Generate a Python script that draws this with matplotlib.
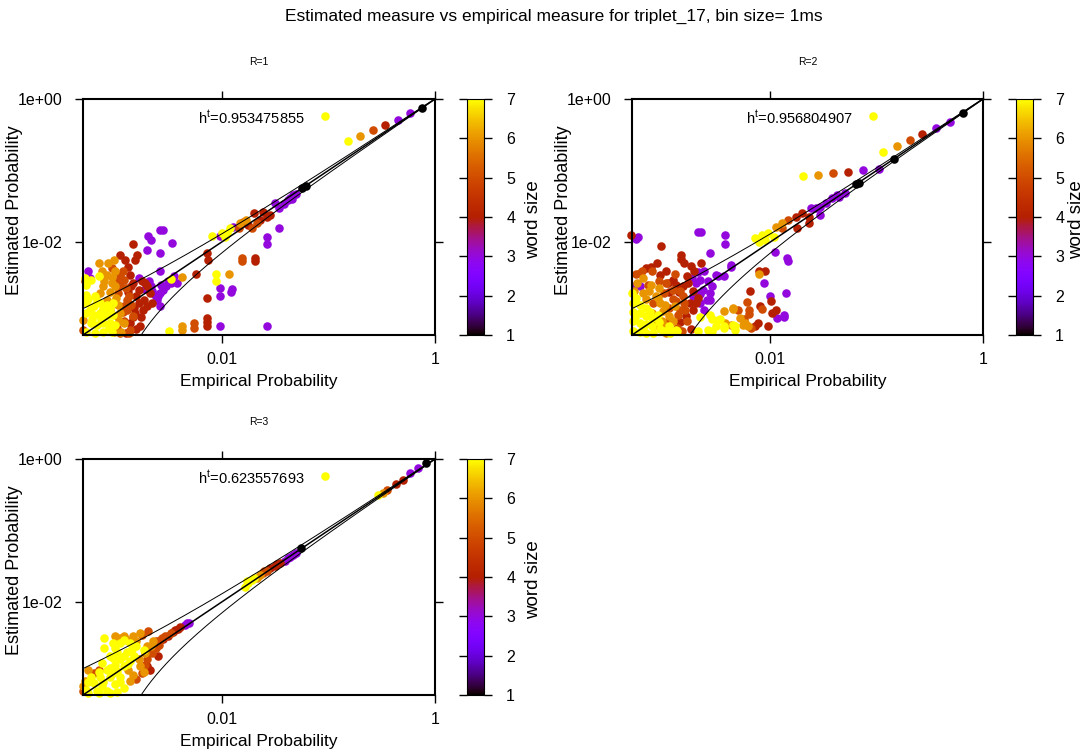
import numpy as np
import matplotlib
matplotlib.use("Agg")
import matplotlib.pyplot as plt
from matplotlib.colors import Normalize
from matplotlib.cm import ScalarMappable

plt.rcParams['font.family'] = ['Liberation Sans', 'DejaVu Sans']
plt.rcParams['mathtext.fontset'] = 'custom'
plt.rcParams['mathtext.rm'] = 'Liberation Sans'

title = "Estimated measure vs empirical measure for triplet_17, bin size= 1ms"
panel_names = ["R=1", "R=2", "R=3"]
ht_values = ["0.953475855", "0.956804907", "0.623557693"]
x_ticks = [0.01, 1]
x_ticklabels = ["0.01", "1"]
y_ticks = [1e-2, 1]
y_ticklabels = ["1e-02", "1e+00"]
cbar_ticks = [1, 2, 3, 4, 5, 6, 7]
prob_min = 5e-4
n_samples = 10000  # confidence band: x +/- 3*sqrt(x(1-x)/N)

# points: (log10 empirical, log10 estimated), grouped by word size
r1_w1 = [(-0.12, -0.12), (-1.25, -1.25), (-1.21, -1.22)]
r1_w3 = [(-0.35, -0.29), (-0.23, -0.20), (-1.30, -1.33), (-1.33, -1.34), (-1.36, -1.38),
         (-1.38, -1.41), (-1.42, -1.47), (-1.50, -1.46), (-1.46, -1.53), (-1.34, -1.40),
         (-1.46, -1.81), (-2.02, -1.92), (-1.89, -1.79), (-1.58, -1.93), (-1.58, -2.03),
         (-2.02, -2.65), (-2.02, -2.76), (-1.90, -2.66), (-1.91, -2.70), (-2.02, -3.17),
         (-1.58, -3.17), (-2.47, -2.02), (-2.58, -1.83), (-2.55, -1.83), (-2.69, -1.91),
         (-2.66, -1.97), (-2.70, -2.11), (-2.58, -2.16), (-2.58, -2.40), (-2.50, -2.55),
         (-3.25, -2.40), (-3.24, -2.51), (-2.58, -2.90), (-2.78, -2.51), (-2.66, -2.62),
         (-2.63, -2.74), (-2.58, -2.72), (-2.61, -2.81), (-2.55, -2.67), (-2.48, -2.58),
         (-2.42, -2.58), (-2.72, -2.66), (-2.60, -2.76), (-2.68, -2.55), (-2.52, -2.62),
         (-2.45, -2.48), (-2.65, -2.68), (-2.57, -2.60)]
r1_w4 = [(-0.47, -0.37), (-1.61, -1.58), (-1.58, -1.65), (-1.70, -1.60), (-1.64, -1.69),
         (-1.55, -1.62), (-1.75, -1.76), (-1.69, -2.23), (-1.69, -2.26), (-2.14, -2.16),
         (-2.13, -2.25), (-2.24, -2.45), (-2.14, -2.79), (-2.14, -3.07), (-2.14, -3.12),
         (-2.14, -3.18), (-2.83, -2.03), (-2.91, -2.25), (-2.81, -2.25), (-2.79, -2.18),
         (-2.86, -2.46), (-2.83, -2.58), (-2.78, -2.67), (-2.70, -2.62), (-2.67, -2.72),
         (-2.73, -2.81), (-2.81, -3.00), (-2.86, -3.14), (-2.77, -3.18), (-2.70, -2.90),
         (-2.78, -2.86), (-2.83, -3.05), (-2.80, -3.22), (-2.88, -2.70), (-2.75, -2.55),
         (-2.85, -2.62), (-2.80, -2.75), (-2.74, -2.95), (-2.82, -2.92), (-2.76, -3.05),
         (-2.90, -3.28), (-2.88, -2.35), (-2.95, -2.18), (-2.72, -2.58), (-2.65, -2.85)]
r1_w5 = [(-0.58, -0.44), (-1.80, -1.72), (-1.84, -1.81), (-1.72, -1.81), (-1.67, -1.74),
         (-1.81, -2.23), (-1.81, -2.26), (-2.26, -3.13), (-2.26, -3.21), (-2.95, -2.46),
         (-2.92, -2.53), (-2.95, -2.62), (-2.97, -2.72), (-2.89, -2.81), (-2.92, -2.90),
         (-2.83, -3.04), (-2.86, -3.23), (-2.89, -2.95), (-3.30, -3.23), (-2.98, -3.20),
         (-2.92, -3.10), (-3.03, -2.36), (-2.93, -2.40), (-2.98, -2.55), (-2.90, -2.65),
         (-2.87, -2.75), (-2.93, -2.98), (-2.85, -2.88), (-2.95, -3.28), (-2.87, -3.28),
         (-3.28, -2.55)]
r1_w6 = [(-0.70, -0.52), (-1.77, -1.69), (-1.83, -1.74), (-1.93, -2.45), (-3.07, -2.29),
         (-3.01, -2.25), (-2.37, -2.49), (-2.37, -3.18), (-2.37, -3.23), (-3.08, -2.46),
         (-3.03, -2.49), (-3.03, -2.58), (-3.11, -2.62), (-3.14, -2.72), (-3.08, -2.81),
         (-2.95, -3.00), (-2.92, -3.14), (-2.94, -3.26), (-2.98, -3.04), (-2.97, -2.88),
         (-3.30, -3.09), (-3.00, -2.40), (-3.12, -2.40), (-3.05, -2.70), (-3.10, -2.55),
         (-3.05, -2.95), (-3.00, -2.62), (-2.99, -2.78), (-3.15, -2.30), (-2.96, -3.10),
         (-3.01, -3.26)]
r1_w7 = [(-1.03, -0.24), (-0.82, -0.59), (-1.92, -1.81), (-1.97, -1.93), (-2.09, -1.91),
         (-1.95, -1.87), (-2.00, -1.88), (-2.05, -2.45), (-2.05, -2.55), (-2.49, -3.24),
         (-3.15, -2.48), (-2.48, -2.52), (-3.27, -2.60), (-3.23, -2.53), (-3.27, -2.86),
         (-3.20, -2.90), (-3.14, -2.86), (-3.08, -2.88), (-3.02, -2.86), (-3.27, -3.00),
         (-3.20, -3.02), (-3.14, -3.00), (-3.08, -3.02), (-3.02, -3.02), (-3.23, -3.14),
         (-3.17, -3.16), (-3.11, -3.14), (-3.05, -3.14), (-3.00, -3.16), (-3.27, -3.26),
         (-3.19, -3.27), (-3.11, -3.26), (-3.03, -3.26), (-3.27, -2.74), (-3.19, -2.76),
         (-3.24, -2.95), (-3.11, -2.94), (-3.25, -2.80), (-3.17, -2.82), (-3.05, -2.92),
         (-3.22, -3.08), (-3.13, -3.08), (-3.06, -3.20), (-3.28, -2.50)]

r2_w1 = [(-0.19, -0.19), (-0.84, -0.84), (-1.19, -1.19), (-1.17, -1.17)]
r2_w3 = [(-0.44, -0.41), (-0.31, -0.32), (-0.98, -0.98), (-1.13, -1.00), (-1.37, -1.34),
         (-1.42, -1.39), (-1.48, -1.46), (-1.53, -1.51), (-1.57, -1.53), (-1.62, -1.53),
         (-1.53, -1.62), (-1.35, -1.37), (-1.30, -1.32), (-2.43, -1.90), (-2.43, -2.03),
         (-2.68, -1.86), (-2.65, -1.86), (-2.57, -2.15), (-2.37, -2.35), (-1.96, -2.14),
         (-1.84, -2.23), (-1.83, -2.26), (-2.06, -2.57), (-1.85, -2.71), (-2.00, -2.76),
         (-1.87, -3.02), (-1.87, -3.05), (-1.94, -3.07), (-2.57, -2.81), (-3.26, -1.96),
         (-3.24, -1.93), (-3.26, -2.60), (-2.49, -2.48), (-2.68, -2.42), (-2.51, -2.46),
         (-2.44, -2.48), (-2.37, -2.32), (-3.23, -2.62), (-2.66, -2.53), (-2.63, -2.67),
         (-2.59, -2.55), (-2.55, -2.62), (-2.60, -2.81), (-2.66, -2.86), (-2.62, -2.95),
         (-2.73, -2.76), (-2.70, -2.58), (-2.74, -2.50), (-2.62, -2.40), (-2.57, -2.72),
         (-2.66, -2.73)]
r2_w4 = [(-0.57, -0.49), (-1.27, -1.02), (-1.70, -1.60), (-1.76, -1.65), (-1.64, -1.65),
         (-1.64, -1.74), (-1.75, -1.81), (-3.31, -1.90), (-3.03, -2.05), (-2.84, -2.18),
         (-2.81, -2.29), (-3.17, -2.37), (-3.12, -2.35), (-2.11, -2.41), (-2.05, -2.41),
         (-2.19, -2.68), (-1.99, -2.83), (-1.95, -2.95), (-2.02, -3.18), (-2.14, -3.17),
         (-3.04, -2.46), (-2.78, -2.48), (-2.92, -2.53), (-2.89, -2.60), (-2.96, -2.58),
         (-2.73, -2.69), (-2.68, -2.78), (-2.76, -2.86), (-2.79, -3.04), (-2.73, -2.95),
         (-2.70, -2.86), (-2.10, -2.90), (-2.12, -3.14), (-1.98, -3.00), (-2.84, -2.24),
         (-2.86, -2.70), (-2.82, -2.62), (-2.95, -2.70), (-2.77, -2.58), (-2.85, -3.12),
         (-2.75, -3.22), (-2.98, -2.40), (-2.72, -2.40), (-3.07, -2.30), (-2.65, -2.30),
         (-2.75, -2.33)]
r2_w5 = [(-0.69, -0.57), (-1.41, -1.04), (-1.83, -1.69), (-1.89, -1.81), (-3.26, -2.45),
         (-3.21, -2.41), (-3.23, -2.44), (-3.11, -2.41), (-2.20, -2.95), (-2.30, -2.95),
         (-2.08, -2.94), (-2.20, -3.01), (-2.98, -2.58), (-2.92, -2.67), (-2.85, -2.69),
         (-2.82, -2.76), (-2.89, -2.83), (-2.81, -2.86), (-2.85, -2.95), (-2.25, -3.08),
         (-2.18, -3.20), (-2.22, -2.84), (-2.95, -3.10), (-2.88, -3.20), (-3.15, -2.60),
         (-3.05, -2.55), (-3.00, -2.72), (-2.92, -2.80), (-2.95, -2.92), (-2.87, -3.02),
         (-2.80, -2.95), (-2.90, -2.45), (-3.10, -2.85), (-2.78, -3.10), (-2.83, -3.25)]
r2_w6 = [(-0.81, -0.66), (-1.55, -1.06), (-1.89, -1.74), (-1.95, -1.79), (-2.11, -2.45),
         (-2.35, -2.94), (-2.43, -3.13), (-2.37, -3.16), (-2.24, -3.14), (-2.21, -3.17),
         (-3.20, -2.72), (-3.14, -2.69), (-3.08, -2.76), (-3.04, -2.86), (-3.01, -2.97),
         (-3.11, -3.00), (-2.95, -3.04), (-2.98, -3.18), (-2.92, -3.11), (-2.44, -2.97),
         (-2.35, -2.93), (-2.29, -3.07), (-2.26, -3.16), (-3.20, -2.50), (-3.28, -2.68),
         (-3.17, -2.80), (-3.06, -2.78), (-2.99, -2.88), (-3.02, -3.10), (-3.08, -3.16),
         (-2.90, -2.90), (-3.12, -2.60), (-3.25, -2.58), (-2.98, -3.27), (-3.05, -2.65)]
r2_w7 = [(-1.03, -0.24), (-0.94, -0.74), (-1.69, -1.08), (-2.14, -1.95), (-2.08, -1.90),
         (-2.02, -1.88), (-2.11, -2.00), (-2.05, -1.97), (-1.97, -1.93), (-2.47, -3.08),
         (-2.55, -3.08), (-2.33, -3.17), (-2.44, -3.17), (-2.55, -3.24), (-2.66, -3.05),
         (-2.68, -3.24), (-3.29, -2.85), (-3.23, -2.88), (-3.17, -2.92), (-3.29, -2.98),
         (-3.23, -3.00), (-3.17, -3.03), (-3.11, -3.06), (-3.29, -3.11), (-3.23, -3.13),
         (-3.17, -3.15), (-3.11, -3.18), (-3.29, -3.24), (-3.23, -3.26), (-3.17, -3.27),
         (-3.10, -3.27), (-3.04, -3.22), (-3.30, -2.72), (-2.94, -3.27), (-2.88, -3.25),
         (-3.06, -3.02), (-2.95, -3.18), (-2.89, -3.23), (-2.57, -3.02), (-2.49, -3.09),
         (-2.51, -3.18), (-2.59, -3.23), (-2.44, -3.21), (-2.35, -3.16), (-2.33, -3.23),
         (-3.26, -2.78), (-3.13, -2.98), (-3.05, -3.12), (-3.00, -3.25), (-3.20, -3.20),
         (-3.27, -3.05)]

r3_w1 = [(-0.08, -0.06), (-1.26, -1.25)]
r3_w3 = [(-0.16, -0.13), (-0.23, -0.20), (-1.30, -1.31), (-1.33, -1.34), (-1.36, -1.37),
         (-1.38, -1.39), (-1.41, -1.42), (-2.31, -2.30), (-2.34, -2.32), (-2.33, -2.29)]
r3_w4 = [(-0.30, -0.29), (-0.37, -0.35), (-1.45, -1.46), (-1.50, -1.50), (-1.55, -1.53),
         (-1.48, -1.47), (-2.39, -2.35), (-2.44, -2.39), (-2.41, -2.38), (-2.60, -2.75),
         (-2.70, -2.90), (-2.67, -2.95), (-2.50, -2.47), (-2.46, -2.42), (-2.55, -2.52)]
r3_w5 = [(-0.45, -0.43), (-1.58, -1.56), (-1.61, -1.60), (-1.60, -1.56), (-2.48, -2.44),
         (-2.53, -2.48), (-2.58, -2.53), (-2.59, -2.60), (-2.69, -2.41), (-2.75, -2.46),
         (-2.70, -2.80), (-2.75, -3.00), (-2.80, -3.08), (-3.15, -2.95), (-3.20, -3.00),
         (-3.30, -3.25), (-2.62, -2.65), (-2.65, -2.72), (-2.72, -2.88), (-2.62, -2.55),
         (-2.56, -2.50)]
r3_w6 = [(-0.49, -0.47), (-1.64, -1.62), (-1.67, -1.66), (-2.64, -2.55), (-2.66, -2.62),
         (-2.77, -2.44), (-2.83, -2.48), (-2.89, -2.53), (-2.95, -2.51), (-2.77, -2.90),
         (-2.73, -2.98), (-2.83, -3.02), (-2.86, -3.10), (-3.25, -2.95), (-3.28, -3.10),
         (-3.30, -3.18), (-2.72, -2.72), (-2.78, -2.80), (-2.70, -2.62), (-2.88, -2.95),
         (-2.80, -2.55), (-2.92, -2.47), (-3.00, -2.48)]
r3_w7 = [(-1.03, -0.24), (-0.53, -0.51), (-1.72, -1.69), (-1.75, -1.74), (-1.78, -1.79),
         (-1.70, -1.66), (-1.76, -1.71), (-3.02, -2.58), (-2.92, -2.53), (-2.86, -2.58),
         (-2.80, -2.62), (-2.73, -2.67), (-2.98, -2.70), (-2.89, -2.70), (-2.82, -2.75),
         (-2.95, -2.80), (-2.86, -2.82), (-3.00, -2.88), (-2.92, -2.90), (-3.08, -2.95),
         (-2.98, -2.97), (-3.14, -3.05), (-3.05, -3.05), (-2.95, -3.05), (-3.20, -3.14),
         (-3.11, -3.12), (-3.00, -3.15), (-2.92, -3.20), (-3.27, -3.23), (-3.17, -3.24),
         (-3.08, -3.25), (-2.98, -3.26), (-3.23, -3.05), (-3.02, -2.78), (-3.10, -2.65),
         (-3.00, -2.65), (-2.95, -2.58), (-2.84, -2.66), (-3.05, -2.75), (-2.92, -2.75),
         (-3.12, -2.85), (-2.88, -2.87), (-3.05, -2.92), (-3.15, -2.98), (-3.02, -3.00),
         (-3.25, -3.12), (-3.12, -3.18), (-2.95, -3.12), (-3.25, -3.28), (-3.15, -3.28),
         (-3.05, -3.28), (-3.10, -2.50)]

panels = [
    [(3, r1_w3), (4, r1_w4), (5, r1_w5), (6, r1_w6), (7, r1_w7), (1, r1_w1)],
    [(3, r2_w3), (4, r2_w4), (5, r2_w5), (6, r2_w6), (7, r2_w7), (1, r2_w1)],
    [(3, r3_w3), (4, r3_w4), (5, r3_w5), (6, r3_w6), (7, r3_w7), (1, r3_w1)],
]

W, H = 1089, 754
fig = plt.figure(figsize=(W / 100, H / 100), dpi=100)


def box(l, t, r, b):
    return [l / W, 1 - b / H, (r - l) / W, (b - t) / H]


ax_boxes = [box(83, 99, 435, 335), box(632, 99, 983, 335), box(83, 459, 435, 695)]
cbar_boxes = [box(467, 99, 484, 335), box(1016, 99, 1033, 335), box(467, 459, 484, 695)]
wordsize_x = [534, 1077, 534]

cmap = plt.get_cmap('gnuplot')
norm = Normalize(1, 7)

xs = np.logspace(np.log10(prob_min), 0, 500)
band = 3 * np.sqrt(xs * (1 - xs) / n_samples)
lower = np.where(xs - band > 0, xs - band, np.nan)

for i, groups in enumerate(panels):
    ax = fig.add_axes(ax_boxes[i])
    for w, pts in groups:
        emp, est = np.array(pts).T
        ax.scatter(10 ** emp, 10 ** est, s=38, color=cmap(norm(w)), linewidths=0,
                   clip_on=False, zorder=2)
    ax.plot(xs, xs, color='black', lw=1.1, zorder=3)
    ax.plot(xs, xs + band, color='black', lw=0.7, zorder=3)
    ax.plot(xs, lower, color='black', lw=0.7, zorder=3)

    ax.set_xscale('log')
    ax.set_yscale('log')
    ax.set_xlim(prob_min, 1)
    ax.set_ylim(prob_min, 1)
    ax.set_xticks(x_ticks)
    ax.set_xticklabels(x_ticklabels)
    ax.set_yticks(y_ticks)
    ax.set_yticklabels(y_ticklabels)
    ax.minorticks_off()
    ax.tick_params(direction='out', length=6, width=1, top=True, right=True,
                   labelsize=11.5)
    ax.tick_params(axis='y', pad=9)
    ax.tick_params(axis='x', pad=6)
    for sp in ax.spines.values():
        sp.set_linewidth(1.5)

    ax.text(0.5, 1.157, panel_names[i], transform=ax.transAxes, ha='center',
            va='center', fontsize=7.5)
    ax.text(0.5, -0.195, "Empirical Probability", transform=ax.transAxes,
            ha='center', va='center', fontsize=12.5)
    ax.text(-0.196, 0.53, "Estimated Probability", transform=ax.transAxes,
            ha='center', va='center', rotation=90, fontsize=13)
    ax.text(0.326, 0.919, r"h$^{\mathrm{t}}$=" + ht_values[i], transform=ax.transAxes,
            ha='left', va='center', fontsize=10.5)

    cax = fig.add_axes(cbar_boxes[i])
    cb = fig.colorbar(ScalarMappable(norm=norm, cmap=cmap), cax=cax, ticks=cbar_ticks)
    cb.outline.set_linewidth(0.8)
    cax.tick_params(direction='out', left=True, right=True, length=6, width=1,
                    labelsize=11.5, pad=10)
    mid = cbar_boxes[i][1] + cbar_boxes[i][3] * 0.49
    fig.text(wordsize_x[i] / W, mid, "word size", rotation=90, ha='center',
             va='center', fontsize=13.5)

fig.text(554 / W, 1 - 16 / H, title, ha='center', va='center', fontsize=12.5)

fig.savefig("out.png", dpi=100)
